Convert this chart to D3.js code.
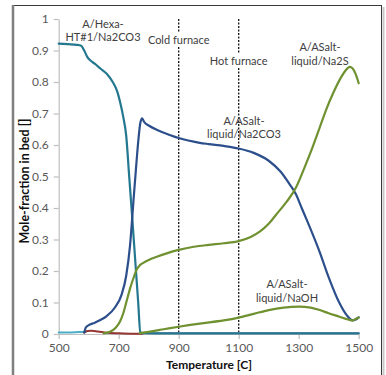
<!DOCTYPE html>
<html>
<head>
<meta charset="utf-8">
<script src="https://cdn.jsdelivr.net/npm/d3@7"></script>
<style>
  html, body { margin: 0; padding: 0; background: #fff; }
  svg { display: block; }
  text { font-family: Lato, "Open Sans", sans-serif; }
</style>
</head>
<body>
<svg id="chart" width="386" height="375"></svg>
<script>
// Temperature ticks and y ticks
const xTicks = [500, 700, 900, 1100, 1300, 1500];
const yTicks = [0, 0.1, 0.2, 0.3, 0.4, 0.5, 0.6, 0.7, 0.8, 0.9, 1];

// A/Hexa-HT#1/Na2CO3
const hexaT = [500, 530, 560, 575, 585, 595, 605, 620, 640, 660, 680, 695, 705, 715, 725, 735, 745, 755, 765, 772, 780, 850, 1000, 1200, 1500];
const hexaV = [0.922, 0.920, 0.918, 0.915, 0.900, 0.880, 0.869, 0.858, 0.842, 0.826, 0.800, 0.770, 0.735, 0.690, 0.630, 0.500, 0.370, 0.235, 0.100, 0.006, 0.003, 0.002, 0.002, 0.002, 0.002];

// A/ASalt-liquid/Na2CO3
const na2co3T = [585, 590, 600, 615, 640, 660, 688, 710, 725, 738, 749, 758, 766, 772, 778, 785, 800, 830, 870, 900, 970, 1000, 1050, 1100, 1150, 1200, 1240, 1270, 1290, 1310, 1330, 1370, 1400, 1435, 1460, 1480, 1490, 1500];
const na2co3V = [0.005, 0.020, 0.028, 0.034, 0.045, 0.057, 0.085, 0.126, 0.185, 0.283, 0.420, 0.530, 0.620, 0.670, 0.685, 0.673, 0.662, 0.647, 0.632, 0.622, 0.607, 0.603, 0.597, 0.589, 0.575, 0.550, 0.515, 0.475, 0.445, 0.400, 0.355, 0.260, 0.180, 0.100, 0.060, 0.043, 0.046, 0.053];

// A/ASalt-liquid/Na2S
const na2sT = [650, 671, 690, 704, 715, 726, 738, 749, 760, 770, 782, 800, 827, 860, 900, 950, 1000, 1050, 1100, 1140, 1170, 1200, 1224, 1260, 1291, 1320, 1347, 1370, 1391, 1415, 1436, 1455, 1470, 1480, 1490, 1500];
const na2sV = [0.002, 0.007, 0.020, 0.039, 0.065, 0.103, 0.145, 0.177, 0.205, 0.218, 0.226, 0.235, 0.245, 0.256, 0.267, 0.277, 0.283, 0.288, 0.295, 0.308, 0.325, 0.350, 0.378, 0.420, 0.465, 0.530, 0.595, 0.655, 0.711, 0.765, 0.806, 0.835, 0.848, 0.843, 0.825, 0.796];

// A/ASalt-liquid/NaOH
const naohT = [770, 800, 850, 900, 970, 1050, 1100, 1150, 1200, 1250, 1300, 1340, 1370, 1400, 1436, 1465, 1480, 1490, 1500];
const naohV = [0.003, 0.007, 0.015, 0.023, 0.033, 0.043, 0.052, 0.064, 0.076, 0.084, 0.087, 0.084, 0.076, 0.066, 0.055, 0.046, 0.043, 0.048, 0.052];

// minor phases near zero
const gasT = [500, 540, 570, 590];
const gasV = [0.005, 0.005, 0.006, 0.006];
const redT = [585, 595, 610, 630, 660, 700, 740, 780];
const redV = [0.004, 0.0095, 0.010, 0.008, 0.004, 0.002, 0.001, 0.0005];
const violetT = [770, 900, 1100, 1300, 1480, 1500];
const violetV = [0.003, 0.003, 0.003, 0.003, 0.003, 0.003];

const svg = d3.select("#chart");

// chart frame
svg.append("line").attr("x1", 13).attr("x2", 381).attr("y1", 5.5).attr("y2", 5.5)
  .attr("stroke", "#3a3a3a").attr("stroke-width", 1);
svg.append("line").attr("x1", 13).attr("x2", 13).attr("y1", 5).attr("y2", 375)
  .attr("stroke", "#7f7f7f").attr("stroke-width", 2.5);
svg.append("line").attr("x1", 381.5).attr("x2", 381.5).attr("y1", 5).attr("y2", 375)
  .attr("stroke", "#3a3a3a").attr("stroke-width", 1);
svg.append("line").attr("x1", 383.5).attr("x2", 383.5).attr("y1", 7).attr("y2", 375)
  .attr("stroke", "#c8c8c8").attr("stroke-width", 2);

const x = d3.scaleLinear().domain([500, 1500]).range([58.7, 358.7]);
const y = d3.scaleLinear().domain([0, 1]).range([334, 19]);

// axes
const xAxis = d3.axisBottom(x).tickValues(xTicks).tickSize(5).tickSizeOuter(0).tickFormat(d3.format("d"));
const yAxis = d3.axisLeft(y).tickValues(yTicks).tickSize(5).tickSizeOuter(0).tickFormat(d => d === 0 || d === 1 ? String(d) : d3.format(".1f")(d));

const gx = svg.append("g").attr("transform", "translate(0,334)").call(xAxis);
const gy = svg.append("g").attr("transform", "translate(58.7,0)").call(yAxis);
[gx, gy].forEach(g => {
  g.select(".domain").attr("stroke", "#bfbfbf").attr("stroke-width", 1.2);
  g.selectAll(".tick line").attr("stroke", "#bfbfbf").attr("stroke-width", 1.2);
  g.selectAll(".tick text").attr("fill", "#595959").attr("font-size", 12)
    .style("font-family", "Lato, 'Open Sans', sans-serif");
});
gx.selectAll(".tick text").attr("dy", "0.71em").attr("y", 9);
gy.selectAll(".tick text").attr("x", -10);

// axis titles
svg.append("text").attr("x", 209).attr("y", 369).attr("text-anchor", "middle")
  .attr("font-size", 12).attr("font-weight", "bold").attr("fill", "#111")
  .text("Temperature [C]");
svg.append("text").attr("transform", "translate(28.5,181) rotate(-90)").attr("text-anchor", "middle")
  .attr("font-size", 12.5).attr("font-weight", "bold").attr("fill", "#111")
  .text("Mole-fraction in bed []");

// furnace markers
const markers = [
  { t: 900, label: "Cold furnace", ly: 40 },
  { t: 1100, label: "Hot furnace", ly: 61 }
];
markers.forEach(m => {
  svg.append("line").attr("x1", x(m.t)).attr("x2", x(m.t)).attr("y1", 19).attr("y2", 334)
    .attr("stroke", "#111").attr("stroke-width", 1.3).attr("stroke-dasharray", "2,1.5");
  const t = svg.append("text").attr("x", x(m.t)).attr("y", m.ly + 4).attr("text-anchor", "middle")
    .attr("font-size", 11).attr("fill", "#404040").text(m.label);
  const bb = t.node().getBBox();
  svg.insert("rect", () => t.node()).attr("x", bb.x - 1).attr("y", bb.y - 1)
    .attr("width", bb.width + 2).attr("height", bb.height + 2).attr("fill", "#fff");
});

// curves
const line = d3.line().x(d => x(d[0])).y(d => y(d[1])).curve(d3.curveMonotoneX);
const series = [
  { T: gasT, V: gasV, color: "#4bacc6", w: 2 },
  { T: redT, V: redV, color: "#953735", w: 2 },
  { T: violetT, V: violetV, color: "#b3a5cc", w: 2 },
  { T: hexaT, V: hexaV, color: "#23778f", w: 2.2 },
  { T: na2co3T, V: na2co3V, color: "#2c4f8c", w: 2.2 },
  { T: na2sT, V: na2sV, color: "#6f9130", w: 2.2 },
  { T: naohT, V: naohV, color: "#6f9130", w: 2.2 }
];
series.forEach(s => {
  svg.append("path").datum(d3.zip(s.T, s.V)).attr("d", line)
    .attr("fill", "none").attr("stroke", s.color).attr("stroke-width", s.w)
    .attr("stroke-linejoin", "round").attr("stroke-linecap", "round");
});

// phase labels
const labels = [
  { lines: ["A/Hexa-", "HT#1/Na2CO3"], cx: 103, cy: [24, 37] },
  { lines: ["A/ASalt-", "liquid/Na2S"], cx: 320, cy: [47, 61] },
  { lines: ["A/ASalt-", "liquid/Na2CO3"], cx: 244, cy: [121, 134] },
  { lines: ["A/ASalt-", "liquid/NaOH"], cx: 287, cy: [284, 298] }
];
labels.forEach(l => {
  l.lines.forEach((s, i) => {
    svg.append("text").attr("x", l.cx).attr("y", l.cy[i] + 4).attr("text-anchor", "middle")
      .attr("font-size", 11).attr("fill", "#404040").text(s);
  });
});
</script>
</body>
</html>
